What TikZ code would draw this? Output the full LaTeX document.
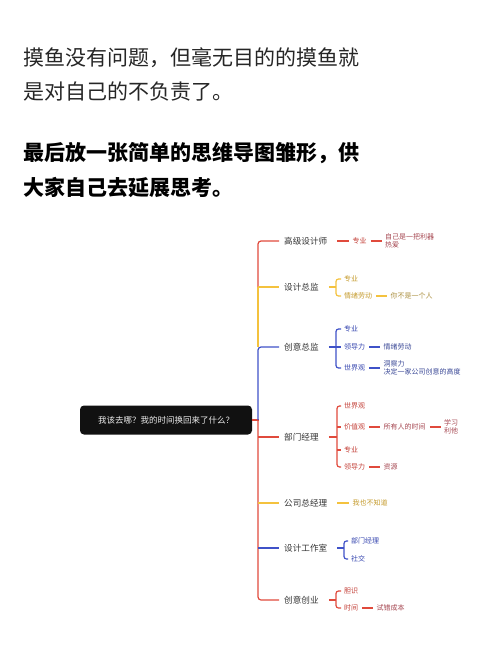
\documentclass[tikz,border=0pt]{standalone}
\usepackage{fontspec}
\setmainfont{Noto Sans CJK SC}
\usepackage{xcolor}
\usepackage{tikz}
\usetikzlibrary{positioning}

\definecolor{mapred}{HTML}{E04A3C}
\definecolor{mapyel}{HTML}{F4C23E}
\definecolor{mapblu}{HTML}{3F52C8}
\definecolor{txtred}{HTML}{C23E36}
\definecolor{txtred2}{HTML}{A54650}
\definecolor{txtyel}{HTML}{C49A2C}
\definecolor{txtyel2}{HTML}{AA8E3E}
\definecolor{txtblu}{HTML}{3444AE}
\definecolor{txtblu2}{HTML}{3A4896}
\definecolor{rootbg}{HTML}{111111}

\begin{document}
\begin{tikzpicture}[x=1pt, y=-1pt,
  headtxt/.style = {anchor=base west, inner sep=0pt, text=black!85,
    font=\fontsize{21}{25}\selectfont},
  rootbox/.style = {
    rectangle, fill=rootbg, rounded corners=4pt,
    minimum width=172pt, minimum height=29pt, inner sep=0pt,
    text=white!93!black, font=\fontsize{8.5}{10}\selectfont},
  mainlbl/.style = {anchor=west, inner sep=1pt, text=black!80,
    font=\fontsize{8.6}{10}\selectfont},
  sublbl/.style  = {anchor=west, inner sep=1pt, align=left,
    font=\fontsize{7}{8.5}\selectfont},
  redtxt/.style  = {sublbl, text=txtred},
  redtxt2/.style = {sublbl, text=txtred2},
  yeltxt/.style  = {sublbl, text=txtyel},
  yeltxt2/.style = {sublbl, text=txtyel2},
  blutxt/.style  = {sublbl, text=txtblu},
  blutxt2/.style = {sublbl, text=txtblu2},
  redln/.style = {draw=mapred, line width=1.2pt},
  yelln/.style = {draw=mapyel, line width=1.2pt},
  bluln/.style = {draw=mapblu, line width=1.2pt},
  kid/.style   = {shorten >=2pt, rounded corners=2.5pt}
]
\useasboundingbox (0,0) rectangle (500,647);

%── Heading text ─────────────────────────────────────────────────
\node[headtxt] (H1) at (23,65.5) {摸鱼没有问题，但毫无目的的摸鱼就};
\node[headtxt] (H2) at (23,99.5) {是对自己的不负责了。};
\node[headtxt, font=\fontsize{21}{25}\selectfont\bfseries, text=black]
  (H3) at (23,160.5) {最后放一张简单的思维导图雏形，供};
\node[headtxt, font=\fontsize{21}{25}\selectfont\bfseries, text=black]
  (H4) at (23,195.5) {大家自己去延展思考。};

%── Root and trunk ───────────────────────────────────────────────
\node[rootbox] (root) at (166,420) {我该去哪？我的时间换回来了什么？};
\coordinate (trk) at (258,420);

%── Main branches ────────────────────────────────────────────────
\node[mainlbl] (GJ)  at (283,241) {高级设计师};
\node[mainlbl] (ZJ)  at (283,287) {设计总监};
\node[mainlbl] (CY)  at (283,347) {创意总监};
\node[mainlbl] (BM)  at (283,437) {部门经理};
\node[mainlbl] (ZZ)  at (283,503) {公司总经理};
\node[mainlbl] (GZS) at (283,548) {设计工作室};
\node[mainlbl] (CJ)  at (283,600) {创意创业};

\draw[redln] (root.east) -- ([xshift=1pt]trk);
\draw[redln, rounded corners=3pt] ([xshift=-4pt]GJ.west) -| (ZJ.west -| trk);
\draw[yelln] (ZJ.west -| trk) -- (CY.west -| trk);
\draw[yelln] (ZJ.west -| trk) -- ([xshift=-4pt]ZJ.west);
\draw[bluln, rounded corners=3pt] ([xshift=-4pt]CY.west) -| (trk);
\draw[redln, rounded corners=3pt] (trk) |- ([xshift=-4pt]CJ.west);
\draw[redln] (BM.west -| trk) -- ([xshift=-4pt]BM.west);
\draw[yelln] (ZZ.west -| trk) -- ([xshift=-4pt]ZZ.west);
\draw[bluln] (GZS.west -| trk) -- ([xshift=-4pt]GZS.west);

%── 高级设计师 ───────────────────────────────────────────────────
\node[redtxt, right=23pt of GJ] (GJzy) {专业};
\node[redtxt2, right=16pt of GJzy] (GJlq) {自己是一把利器\\热爱};
\draw[redln] ([xshift=9pt]GJ.east) -- ([xshift=-2pt]GJzy.west);
\draw[redln] ([xshift=3pt]GJzy.east) -- ([xshift=-2pt]GJlq.west);

%── 设计总监 ─────────────────────────────────────────────────────
\coordinate (ZJk) at (336,287);
\node[yeltxt] (ZJzy) at (343,279) {专业};
\node[yeltxt] (ZJqx) at (343,296) {情绪劳动};
\node[yeltxt2, right=16pt of ZJqx] (ZJyg) {你不是一个人};
\draw[yelln] ([xshift=9pt]ZJ.east) -- (ZJk);
\draw[yelln, kid, shorten <=2pt] (ZJzy.west) -| (ZJk) |- (ZJqx.west);
\draw[yelln] ([xshift=3pt]ZJqx.east) -- ([xshift=-2pt]ZJyg.west);

%── 创意总监 ─────────────────────────────────────────────────────
\coordinate (CYk) at (336,347);
\node[blutxt] (CYzy) at (343,329) {专业};
\node[blutxt] (CYld) at (343,347) {领导力};
\node[blutxt] (CYsj) at (343,368) {世界观};
\node[blutxt2, right=16pt of CYld] (CYqx) {情绪劳动};
\node[blutxt2, right=16pt of CYsj] (CYdc) {洞察力\\决定一家公司创意的高度};
\draw[bluln] ([xshift=9pt]CY.east) -- (CYk);
\draw[bluln, kid, shorten <=2pt] (CYzy.west) -| (CYk) |- (CYsj.west);
\draw[bluln, kid] (CYk) -- (CYld.west);
\draw[bluln] ([xshift=3pt]CYld.east) -- ([xshift=-2pt]CYqx.west);
\draw[bluln] ([xshift=3pt]CYsj.east) -- ([xshift=-2pt]CYdc.west);

%── 部门经理 ─────────────────────────────────────────────────────
\coordinate (BMk) at (337,437);
\node[redtxt] (BMsj) at (343,406) {世界观};
\node[redtxt] (BMjz) at (343,427) {价值观};
\node[redtxt] (BMzy) at (343,450) {专业};
\node[redtxt] (BMld) at (343,467) {领导力};
\node[redtxt2, right=16pt of BMjz] (BMsy) {所有人的时间};
\node[redtxt2, right=16pt of BMsy] (BMxx) {学习\\利他};
\node[redtxt2, right=16pt of BMld] (BMzY) {资源};
\draw[redln] ([xshift=9pt]BM.east) -- (BMk);
\draw[redln, kid, shorten <=2pt] (BMsj.west) -| (BMk) |- (BMld.west);
\draw[redln, kid] (BMjz.west -| BMk) -- (BMjz.west);
\draw[redln, kid] (BMzy.west -| BMk) -- (BMzy.west);
\draw[redln] ([xshift=3pt]BMjz.east) -- ([xshift=-2pt]BMsy.west);
\draw[redln] ([xshift=3pt]BMsy.east) -- ([xshift=-2pt]BMxx.west);
\draw[redln] ([xshift=3pt]BMld.east) -- ([xshift=-2pt]BMzY.west);

%── 公司总经理 ───────────────────────────────────────────────────
\node[yeltxt, right=23pt of ZZ] (ZZbz) {我也不知道};
\draw[yelln] ([xshift=9pt]ZZ.east) -- ([xshift=-2pt]ZZbz.west);

%── 设计工作室 ───────────────────────────────────────────────────
\coordinate (GZSk) at (344,548);
\node[blutxt] (GZSbm) at (350,541) {部门经理};
\node[blutxt] (GZSsj) at (350,559) {社交};
\draw[bluln] ([xshift=9pt]GZS.east) -- (GZSk);
\draw[bluln, kid, shorten <=2pt] (GZSbm.west) -| (GZSk) |- (GZSsj.west);

%── 创意创业 ─────────────────────────────────────────────────────
\coordinate (CJk) at (336,600);
\node[redtxt] (CJds) at (343,591) {胆识};
\node[redtxt] (CJsj) at (343,608) {时间};
\node[redtxt2, right=16pt of CJsj] (CJsc) {试错成本};
\draw[redln] ([xshift=9pt]CJ.east) -- (CJk);
\draw[redln, kid, shorten <=2pt] (CJds.west) -| (CJk) |- (CJsj.west);
\draw[redln] ([xshift=3pt]CJsj.east) -- ([xshift=-2pt]CJsc.west);

\end{tikzpicture}
\end{document}
